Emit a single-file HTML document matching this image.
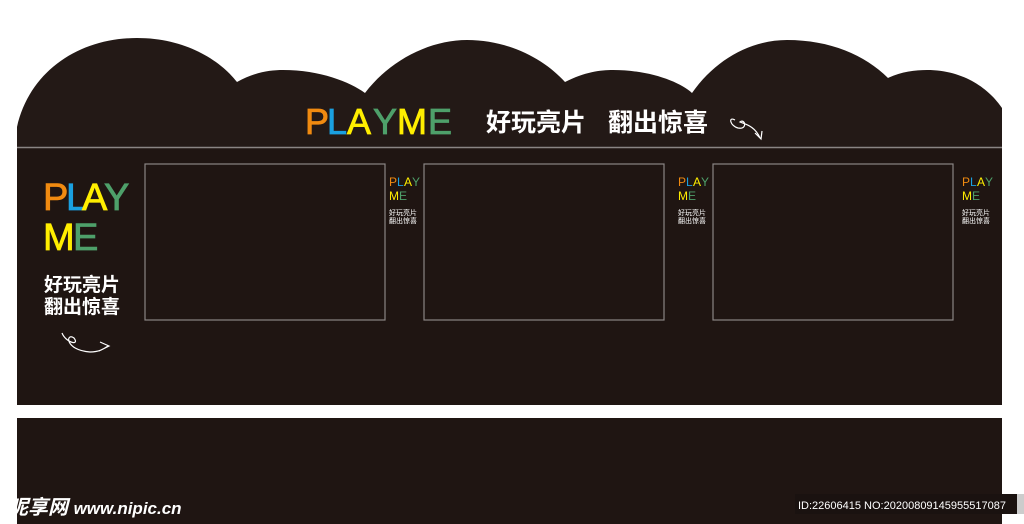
<!DOCTYPE html>
<html><head><meta charset="utf-8"><style>
html,body{margin:0;padding:0;background:#fff;width:1024px;height:524px;overflow:hidden}
svg{display:block}
text{font-family:"Liberation Sans","Noto Sans CJK SC",sans-serif}
</style></head><body>
<svg width="1024" height="524" viewBox="0 0 1024 524">
<rect width="1024" height="524" fill="#fff"/>
<path fill="#231916" d="M17,147 L17,127 C30,70 80,38 137,38 C185,38 220,60 237,82 C255,72 270,70 283,70 C320,70 350,82 365,93 C390,60 430,40 467,40 C510,40 545,60 565,82 C585,72 600,70 613,70 C650,70 680,82 692,93 C715,60 750,40 787,40 C830,40 865,55 888,78 C900,72 915,70 927,70 C965,70 990,90 1002,108 L1002,147 Z"/>
<rect x="17" y="147" width="985" height="258" fill="#1f1512"/>
<line x1="17" y1="147.5" x2="1002" y2="147.5" stroke="#8a8584" stroke-width="1.5"/>
<rect x="17" y="418" width="985" height="106" fill="#1f1512"/>
<g font-size="36" stroke-width="0.8">
<text x="305" y="134" fill="#f08a10" stroke="#f08a10">P</text><text x="327" y="134" fill="#1aa0e0" stroke="#1aa0e0">L</text><text x="347" y="134" fill="#ffee00" stroke="#ffee00">A</text><text x="373" y="134" fill="#4ea06a" stroke="#4ea06a">Y</text><text x="397" y="134" fill="#ffee00" stroke="#ffee00">M</text><text x="428" y="134" fill="#4ea06a" stroke="#4ea06a">E</text>
</g>
<text x="486" y="131" fill="#fff" font-size="25" font-weight="bold">好玩亮片</text>
<text x="608" y="131" fill="#fff" font-size="25" font-weight="bold">翻出惊喜</text>
<path d="M735,120 C728,116 730,126 738,128 C748,130 745,118 740,122 C745,124 755,126 760,138 M755,133 L761,139 L762,131" stroke="#fff" fill="none" stroke-width="1.2"/>
<g font-size="38" stroke-width="0.8">
<text x="43" y="210" fill="#f08a10" stroke="#f08a10">P</text><text x="66" y="210" fill="#1aa0e0" stroke="#1aa0e0">L</text><text x="82" y="210" fill="#ffee00" stroke="#ffee00">A</text><text x="104" y="210" fill="#4ea06a" stroke="#4ea06a">Y</text>
<text x="43" y="250" fill="#ffee00" stroke="#ffee00">M</text><text x="73" y="250" fill="#4ea06a" stroke="#4ea06a">E</text>
</g>
<text x="44" y="291" fill="#fff" font-size="19" font-weight="bold">好玩亮片</text>
<text x="44" y="313" fill="#fff" font-size="19" font-weight="bold">翻出惊喜</text>
<path d="M62,333 C66,343 80,346 74,338 C66,332 64,350 90,352 C100,352 105,348 108,346 M100,342 L109,346 L99,351" stroke="#fff" fill="none" stroke-width="1.2"/>
<g fill="none" stroke="#8a8584" stroke-width="1.2">
<rect x="145" y="164" width="240" height="156"/>
<rect x="424" y="164" width="240" height="156"/>
<rect x="713" y="164" width="240" height="156"/>
</g>
<g id="s">
<g font-size="12">
<text x="389" y="186" fill="#f08a10">P</text><text x="397" y="186" fill="#1aa0e0">L</text><text x="404" y="186" fill="#ffee00">A</text><text x="412" y="186" fill="#4ea06a">Y</text>
<text x="389" y="200" fill="#ffee00">M</text><text x="399" y="200" fill="#4ea06a">E</text>
</g>
<text x="389" y="215" fill="#fff" font-size="7">好玩亮片</text>
<text x="389" y="223" fill="#fff" font-size="7">翻出惊喜</text>
</g>
<use href="#s" x="289"/>
<use href="#s" x="573"/>
<text x="8" y="514" fill="#fff" font-size="20" font-weight="bold" font-style="italic">昵享网 <tspan font-size="17">www.nipic.cn</tspan></text>
<rect x="795" y="494" width="222" height="20" fill="#1a1210"/>
<rect x="1017" y="494" width="7" height="20" fill="#ccc"/>
<text x="798" y="509" fill="#fff" font-size="11">ID:22606415 NO:20200809145955517087</text>
</svg>
</body></html>
